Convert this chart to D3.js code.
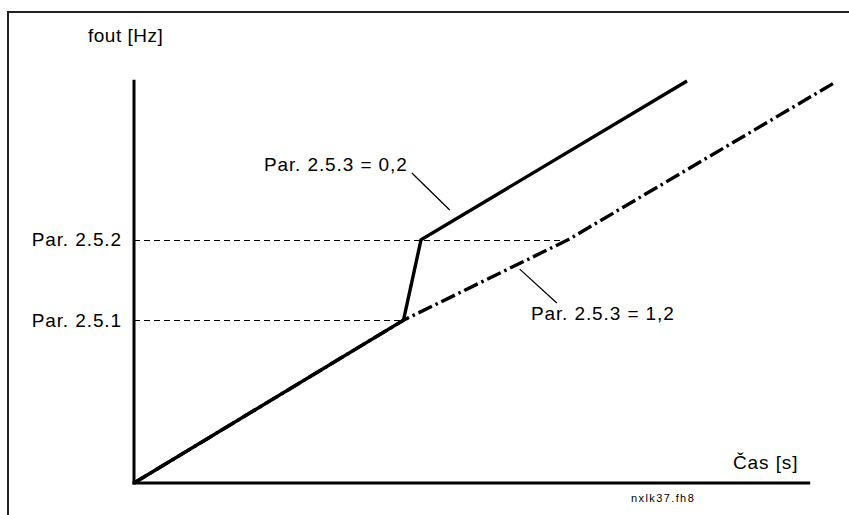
<!DOCTYPE html>
<html>
<head>
<meta charset="utf-8">
<script src="https://cdn.jsdelivr.net/npm/d3@7"></script>
<style>
	body { margin: 0; background: #fff; overflow: hidden; }
	svg { display: block; }
	svg text { font-family: "Liberation Sans", Arial, sans-serif; fill: #000; }
</style>
</head>
<body>
<svg id="chart"></svg>
<script>
// data in chart units (time, frequency)
var solidTime = [0, 38.5, 41, 79];
var solidFreq = [0, 40.5, 60.5, 100];
var dashTime = [0, 38.5, 62, 100];
var dashFreq = [0, 40.5, 60.5, 99.5];
var levelNames = ["Par. 2.5.1", "Par. 2.5.2"];
var levelValues = [40.5, 60.5];
var levelEnds = [38.5, 62];
var noteTexts = ["Par. 2.5.3 = 0,2", "Par. 2.5.3 = 1,2"];
var noteLabelAt = [[39.1, 77.6], [56.7, 40.5]];
var noteLeader = [[[39.7, 77.1], [45.1, 67.9]], [[55.1, 53.2], [60.4, 44.8]]];

var width = 849, height = 515;
var svg = d3.select("#chart").attr("width", width).attr("height", height);

var x = d3.scaleLinear().domain([0, 100]).range([134, 834]);
var y = d3.scaleLinear().domain([0, 100]).range([483, 81]);

// outer frame, runs off the page to the right and bottom
svg.append("rect")
	.attr("x", 8).attr("y", 12)
	.attr("width", 900).attr("height", 600)
	.style("fill", "none")
	.style("stroke", "#222")
	.style("stroke-width", 2);

// reference levels
levelValues.forEach(function(v, i) {
	var ly = Math.round(y(v)) + 0.5;
	svg.append("line")
		.attr("x1", x(0)).attr("x2", x(levelEnds[i]))
		.attr("y1", ly).attr("y2", ly)
		.style("stroke", "#000")
		.style("stroke-width", 1)
		.style("shape-rendering", "crispEdges")
		.style("stroke-dasharray", "6,4");
});

var yAxis = d3.axisLeft(y)
	.tickValues(levelValues)
	.tickFormat(function(d, i) { return levelNames[i]; })
	.tickSize(0)
	.tickPadding(12);
var gy = svg.append("g").attr("transform", "translate(" + x(0) + ",0)").call(yAxis);
gy.select(".domain").remove();
gy.selectAll("text")
	.style("font-size", "19px")
	.style("letter-spacing", "0.9px")
	.style("font-family", "'Liberation Sans', Arial, sans-serif");

// axis lines
svg.append("line")
	.attr("x1", x(0)).attr("x2", x(0))
	.attr("y1", y(0) + 1.5).attr("y2", y(100.3))
	.style("stroke", "#000").style("stroke-width", 3);
svg.append("line")
	.attr("x1", x(0) - 1.5).attr("x2", x(96.6))
	.attr("y1", y(0)).attr("y2", y(0))
	.style("stroke", "#000").style("stroke-width", 3);

var line = d3.line()
	.x(function(d) { return x(d[0]); })
	.y(function(d) { return y(d[1]); });

svg.append("path")
	.attr("d", line(dashTime.map(function(t, i) { return [t, dashFreq[i]]; })))
	.style("fill", "none")
	.style("stroke", "#000")
	.style("stroke-width", 3.4)
	.style("stroke-dasharray", "15,4,2.5,4");

svg.append("path")
	.attr("d", line(solidTime.map(function(t, i) { return [t, solidFreq[i]]; })))
	.style("fill", "none")
	.style("stroke", "#000")
	.style("stroke-width", 3.4)
	.style("stroke-linejoin", "miter");

// annotations
noteTexts.forEach(function(txt, i) {
	svg.append("text")
		.attr("x", x(noteLabelAt[i][0]))
		.attr("y", y(noteLabelAt[i][1]))
		.attr("text-anchor", i == 0 ? "end" : "start")
		.style("font-size", "19px")
		.style("letter-spacing", "0.9px")
		.text(txt);
	svg.append("line")
		.attr("x1", x(noteLeader[i][0][0])).attr("y1", y(noteLeader[i][0][1]))
		.attr("x2", x(noteLeader[i][1][0])).attr("y2", y(noteLeader[i][1][1]))
		.style("stroke", "#000")
		.style("stroke-width", 1.3);
});

svg.append("text")
	.attr("x", 88).attr("y", 42)
	.style("font-size", "19px")
	.style("letter-spacing", "0.5px")
	.text("fout [Hz]");

svg.append("text")
	.attr("x", 733).attr("y", 469)
	.style("font-size", "19px")
	.style("letter-spacing", "0.9px")
	.text("Čas [s]");

svg.append("text")
	.attr("x", 631).attr("y", 502)
	.style("font-size", "11px")
	.style("letter-spacing", "1.4px")
	.text("nxlk37.fh8");
</script>
</body>
</html>
